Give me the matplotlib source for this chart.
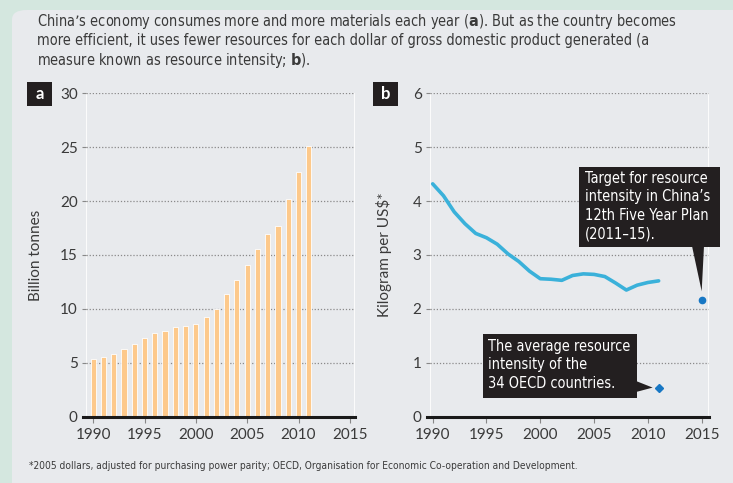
import matplotlib
matplotlib.use("Agg")
import matplotlib.pyplot as plt
from matplotlib import font_manager
from matplotlib.patches import FancyBboxPatch, Rectangle, Polygon

# ---------------- data ----------------
years_a = list(range(1990, 2012))
materials = [5.33, 5.51, 5.85, 6.26, 6.75, 7.34, 7.77, 7.99, 8.30, 8.39, 8.61,
             9.29, 10.0, 11.39, 12.69, 14.05, 15.53, 16.98, 17.72, 20.2, 22.73, 25.14]

years_b = list(range(1990, 2012))
intensity = [4.32, 4.10, 3.80, 3.58, 3.40, 3.32, 3.20, 3.02, 2.88, 2.70, 2.56,
             2.55, 2.53, 2.62, 2.65, 2.64, 2.60, 2.48, 2.35, 2.44, 2.49, 2.52]

target_year = [2015]
target_value = [2.16]
oecd_year = [2011]
oecd_value = [0.54]

xticks = [1990, 1995, 2000, 2005, 2010, 2015]
yticks_a = [0, 5, 10, 15, 20, 25, 30]
yticks_b = [0, 1, 2, 3, 4, 5, 6]

title = ("China\u2019s economy consumes more and more materials each year ($\\bf{a}$). But as the country becomes\n"
         "more efficient, it uses fewer resources for each dollar of gross domestic product generated (a\n"
         "measure known as resource intensity; $\\bf{b}$).")
footnote = "*2005 dollars, adjusted for purchasing power parity; OECD, Organisation for Economic Co-operation and Development."
target_text = "Target for resource\nintensity in China\u2019s\n12th Five Year Plan\n(2011\u201315)."
oecd_text = "The average resource\nintensity of the\n34 OECD countries."

# ---------------- font choice ----------------
fl = font_manager.fontManager.ttflist
names = {f.name for f in fl}
if "Liberation Sans Narrow" in names:
    NARROW = dict(family=["Liberation Sans Narrow", "DejaVu Sans"])
    scale = 1.0
elif any(f.name == "DejaVu Sans" and str(f.stretch) in ("condensed", "semi-condensed")
         for f in fl):
    NARROW = dict(family=["DejaVu Sans"], stretch="condensed")
    scale = 0.88
else:
    NARROW = dict(family=["Roboto", "DejaVu Sans"])
    scale = 0.86

# ---------------- figure ----------------
W, H = 733, 483
fig = plt.figure(figsize=(W / 100, H / 100), dpi=100)
fig.patch.set_facecolor("#d4e7df")

def fx(px):
    return px / W

def fy(py):
    return 1 - py / H

panel = FancyBboxPatch((fx(12), fy(H + 20)), fx(W + 20), (H + 20 - 10) / H,
                       boxstyle="round,pad=0,rounding_size=0.02",
                       transform=fig.transFigure, facecolor="#e8eaed",
                       edgecolor="none", zorder=-10)
fig.patches.append(panel)

tickfont = ["Lato", "DejaVu Sans"]
textcol = "#3a3a3a"

fig.text(fx(37), fy(12), title, ha="left", va="top", fontsize=11 * scale * 1.08,
         color=textcol, linespacing=1.2, **NARROW)
fig.text(fx(29), fy(466), footnote, ha="left", va="center",
         fontsize=7 * scale * 1.185, color=textcol, **NARROW)


def style_axes(ax, xlim, ylim, yticks):
    ax.set_facecolor("none")
    ax.set_xlim(*xlim)
    ax.set_ylim(*ylim)
    ax.set_xticks(xticks)
    ax.set_yticks(yticks)
    for s in ["top", "right", "left"]:
        ax.spines[s].set_visible(False)
    ax.spines["bottom"].set_linewidth(2.2)
    ax.spines["bottom"].set_color("#1a1a1a")
    ax.spines["bottom"].set_bounds(xlim[0] - 0.3, xlim[1])
    ax.tick_params(axis="x", length=4, width=0.8, color="#888888", pad=4,
                   labelsize=11, labelcolor=textcol)
    ax.tick_params(axis="y", length=3, width=0.8, color="#888888", pad=3,
                   labelsize=11, labelcolor=textcol)
    for lab in ax.get_xticklabels() + ax.get_yticklabels():
        lab.set_family(tickfont)
    for t in yticks[1:]:
        ax.axhline(t, color="#8a8a8a", lw=0.9, ls=(0, (1, 1.5)), zorder=1)
    ax.axvline(xlim[0], color="white", lw=1.2, zorder=0.5)
    ax.axvline(xlim[1], color="white", lw=1.2, zorder=0.5)


y0, y1 = 416.7, 93.3
axa = fig.add_axes([fx(86), fy(y0), fx(355 - 86), (y0 - y1) / H])
style_axes(axa, (1989.3, 2015.5), (0, 30), yticks_a)
axa.bar(years_a, materials, width=0.5, color="#fdc98b", edgecolor="white",
        linewidth=0.6, zorder=2)
axa.set_ylabel("Billion tonnes", fontsize=11, family=tickfont, color=textcol,
               labelpad=12)

axb = fig.add_axes([fx(430), fy(y0), fx(709 - 430), (y0 - y1) / H])
style_axes(axb, (1989.75, 2015.68), (0, 6), yticks_b)
axb.plot(years_b, intensity, color="#3ab1da", lw=2.6, solid_capstyle="round",
         solid_joinstyle="round", zorder=3)
axb.plot(target_year, target_value, "o", color="#1777c4", ms=4.5, zorder=4)
axb.plot(oecd_year, oecd_value, "D", color="#1777c4", ms=3.8, zorder=4)
axb.set_ylabel("Kilogram per US$*", fontsize=11, family=tickfont,
               color=textcol, labelpad=15)

# panel letters
for (x0, lab) in [(27, "a"), (373, "b")]:
    fig.patches.append(Rectangle((fx(x0), fy(106)), fx(25), 24 / H,
                                 transform=fig.transFigure,
                                 facecolor="#231f20", edgecolor="none", zorder=5))
    fig.text(fx(x0 + 12.5), fy(94), lab, ha="center", va="center",
             color="white", fontsize=12, fontweight="bold", family=tickfont,
             zorder=6)

dark = "#231f20"
cfs = 11 * scale * 1.08
# target callout
fig.patches.append(Rectangle((fx(579), fy(247)), fx(720 - 579), 80 / H,
                             transform=fig.transFigure, facecolor=dark,
                             edgecolor="none", zorder=5))
tx, ty = axb.transData.transform((target_year[0], target_value[0]))
tipx, tipy = fig.transFigure.inverted().transform((tx, ty + 9))
fig.patches.append(Polygon([(fx(692), fy(246)), (fx(704), fy(246)), (tipx, tipy)],
                           closed=True, transform=fig.transFigure,
                           facecolor=dark, edgecolor="none", zorder=5))
fig.text(fx(585), fy(171), target_text, ha="left", va="top", color="white",
         fontsize=cfs, linespacing=1.28, zorder=6, **NARROW)

# OECD callout
fig.patches.append(Rectangle((fx(483), fy(398)), fx(637 - 483), 64 / H,
                             transform=fig.transFigure, facecolor=dark,
                             edgecolor="none", zorder=5))
ox, oy = axb.transData.transform((oecd_year[0], oecd_value[0]))
tipx, tipy = fig.transFigure.inverted().transform((ox - 6, oy))
fig.patches.append(Polygon([(fx(636), fy(381)), (fx(636), fy(392)), (tipx, tipy)],
                           closed=True, transform=fig.transFigure,
                           facecolor=dark, edgecolor="none", zorder=5))
fig.text(fx(488), fy(339), oecd_text, ha="left", va="top", color="white",
         fontsize=cfs, linespacing=1.28, zorder=6, **NARROW)

fig.savefig("out.png", dpi=100, facecolor=fig.get_facecolor())
